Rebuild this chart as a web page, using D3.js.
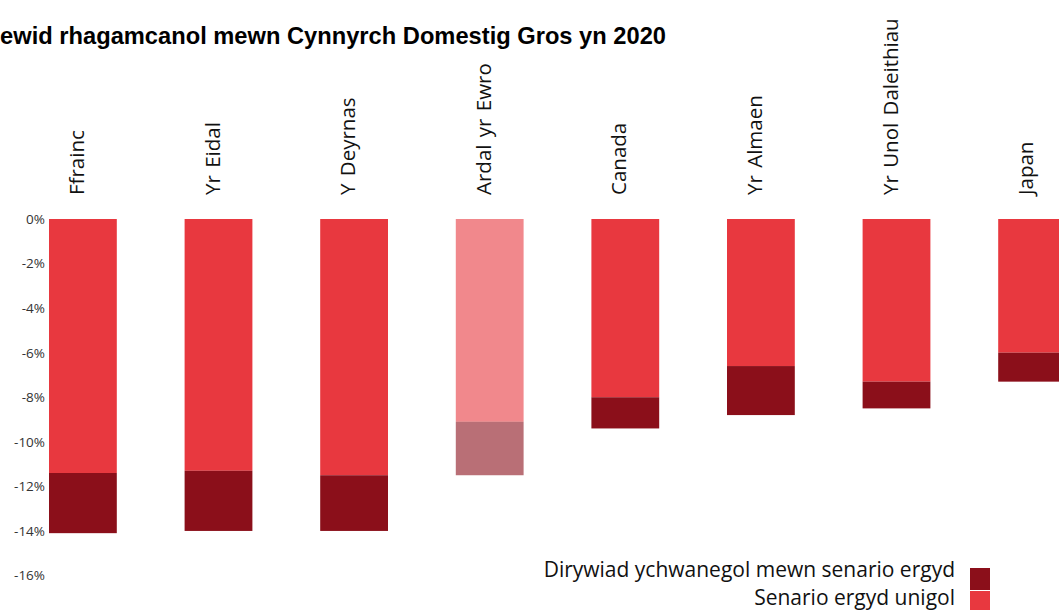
<!DOCTYPE html>
<html>
<head>
<meta charset="utf-8">
<script src="https://cdn.jsdelivr.net/npm/d3@7"></script>
<style>
  body { margin: 0; background: #fff; overflow: hidden; }
  svg { display: block; }
</style>
</head>
<body>
<svg id="chart" width="1059" height="610"></svg>
<script>
// Data: projected GDP change 2020, OECD single-hit vs double-hit
const countries = ['Ffrainc', 'Yr Eidal', 'Y Deyrnas', 'Ardal yr Ewro', 'Canada', 'Yr Almaen', 'Yr Unol Daleithiau', 'Japan'];
const singleHit = [-11.4, -11.3, -11.5, -9.1, -8.0, -6.6, -7.3, -6.0];
const extraDecline = [-2.7, -2.7, -2.5, -2.4, -1.4, -2.2, -1.2, -1.3];
const highlighted = ['Ardal yr Ewro'];
const yTicks = [0, -2, -4, -6, -8, -10, -12, -14, -16];
const seriesNames = ['Dirywiad ychwanegol mewn senario ergyd', 'Senario ergyd unigol'];

const COLORS = { single: '#e8383f', extra: '#8b0f1a' };
const FONT = '"Open Sans", "Noto Sans", sans-serif';

const svg = d3.select('#chart');

const x = d3.scaleBand()
  .domain(countries)
  .range([49, 1066])
  .paddingInner(0.5)
  .paddingOuter(0);

const y = d3.scaleLinear()
  .domain([0, -16])
  .range([219, 575.5]);

// Title (clipped at the left edge, as in the original)
svg.append('text')
  .attr('x', -17)
  .attr('y', 44)
  .attr('textLength', 683)
  .attr('lengthAdjust', 'spacingAndGlyphs')
  .style('font-family', '"Liberation Sans", Arial, sans-serif')
  .style('font-weight', 'bold')
  .style('font-size', '24px')
  .style('fill', '#000')
  .text('Newid rhagamcanol mewn Cynnyrch Domestig Gros yn 2020');

// Y axis labels only
const yAxis = d3.axisLeft(y)
  .tickValues(yTicks)
  .tickFormat(d => `${d}%`)
  .tickSize(0)
  .tickPadding(0);

const yAxisG = svg.append('g')
  .attr('transform', 'translate(45,0)')
  .call(yAxis);
yAxisG.select('.domain').remove();
yAxisG.selectAll('text')
  .style('font-family', FONT)
  .style('font-size', '13.5px')
  .style('fill', '#333');

// Stacked bars
const rows = countries.map((c, i) => ({
  country: c,
  single: singleHit[i],
  total: singleHit[i] + extraDecline[i],
  faded: highlighted.includes(c)
}));

const barG = svg.append('g');

barG.selectAll('rect.single')
  .data(rows)
  .join('rect')
  .attr('class', 'single')
  .attr('x', d => x(d.country))
  .attr('y', y(0))
  .attr('width', x.bandwidth())
  .attr('height', d => y(d.single) - y(0))
  .attr('fill', COLORS.single)
  .attr('opacity', d => d.faded ? 0.6 : 1);

barG.selectAll('rect.extra')
  .data(rows)
  .join('rect')
  .attr('class', 'extra')
  .attr('x', d => x(d.country))
  .attr('y', d => y(d.single))
  .attr('width', x.bandwidth())
  .attr('height', d => y(d.total) - y(d.single))
  .attr('fill', COLORS.extra)
  .attr('opacity', d => d.faded ? 0.6 : 1);

// Rotated category labels above bars
svg.append('g')
  .selectAll('text')
  .data(countries)
  .join('text')
  .attr('transform', d => `translate(${x(d) + x.bandwidth() / 2 + 1},195) rotate(-90)`)
  .attr('text-anchor', 'start')
  .style('font-family', FONT)
  .style('font-size', '20.5px')
  .style('word-spacing', '2px')
  .style('fill', '#111')
  .text(d => d);

// Legend, right aligned
const legend = svg.append('g');
const legendColors = [COLORS.extra, COLORS.single];

legend.selectAll('rect')
  .data(seriesNames)
  .join('rect')
  .attr('x', 970)
  .attr('y', (d, i) => 568 + i * 23)
  .attr('width', 20)
  .attr('height', 22)
  .attr('fill', (d, i) => legendColors[i]);

legend.selectAll('text')
  .data(seriesNames)
  .join('text')
  .attr('x', 955)
  .attr('y', (d, i) => 577 + i * 28)
  .attr('text-anchor', 'end')
  .style('font-family', FONT)
  .style('font-size', '21px')
  .style('fill', '#111')
  .text(d => d);
</script>
</body>
</html>
